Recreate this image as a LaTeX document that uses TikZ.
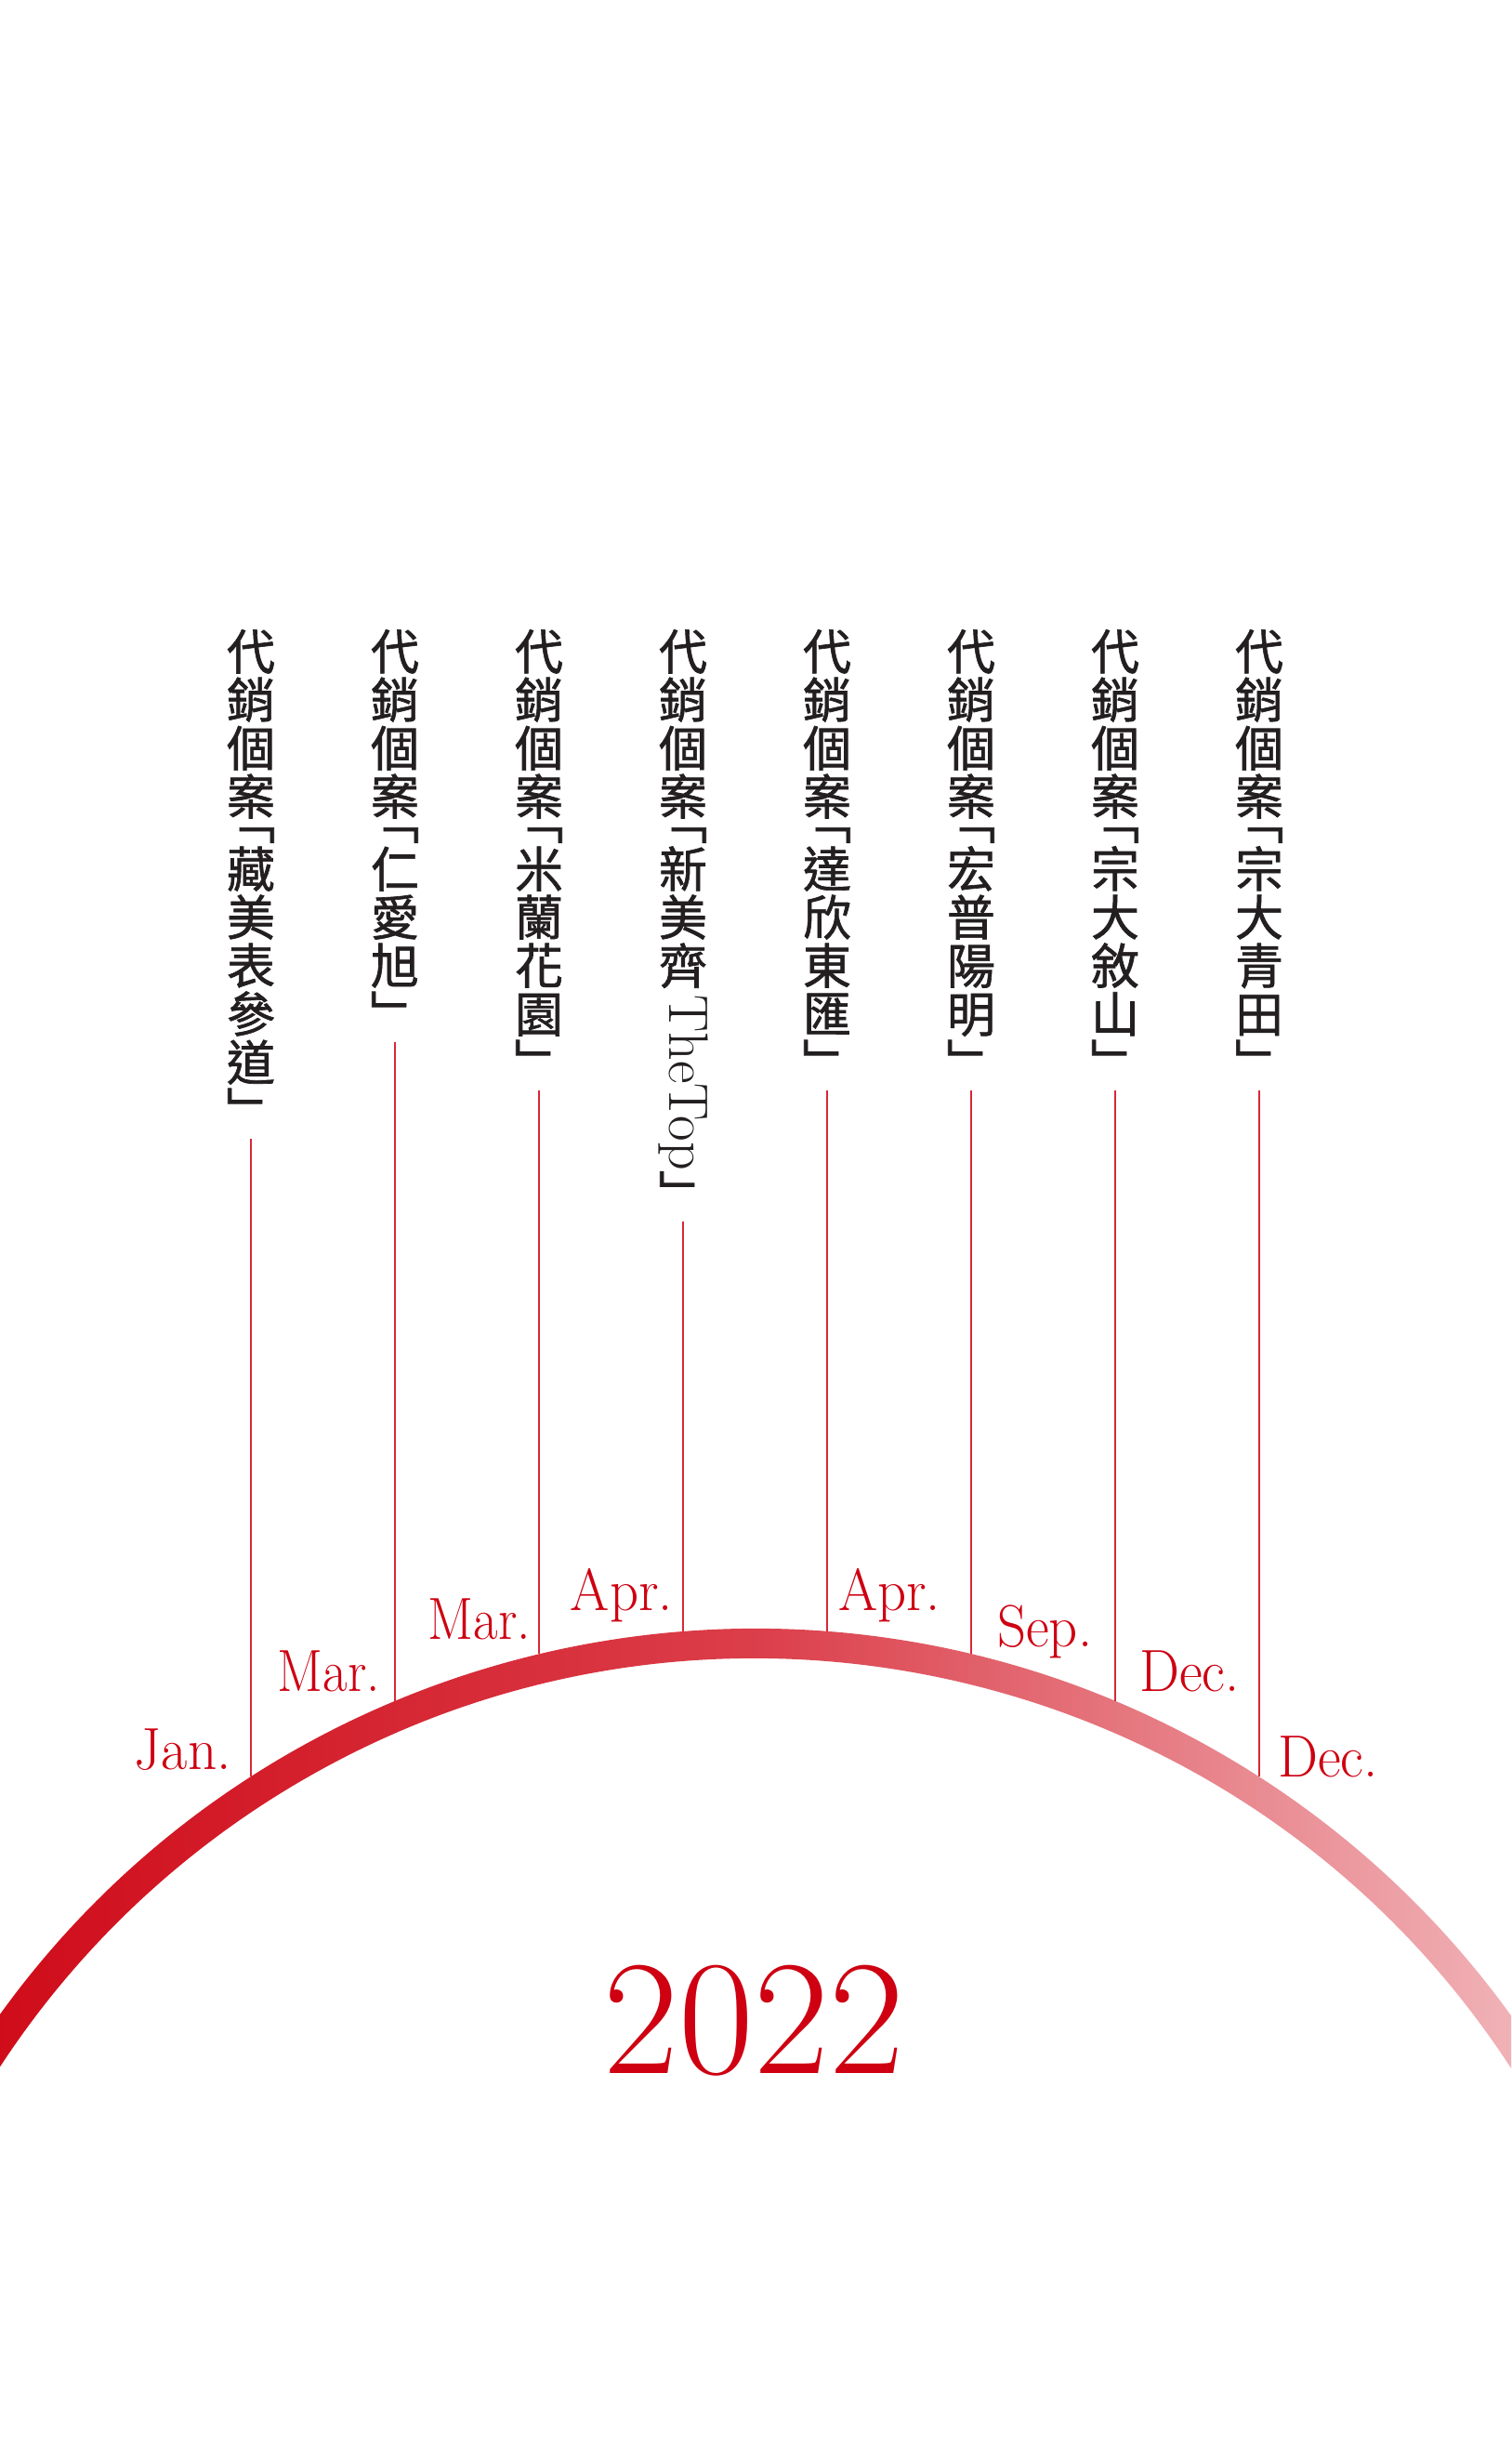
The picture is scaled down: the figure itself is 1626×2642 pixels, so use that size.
\documentclass[tikz,border=0pt]{standalone}
\usepackage{fontspec}
\usepackage{graphicx}
\newfontfamily\cjk{Noto Sans CJK TC}[FakeBold=1.2]
\definecolor{mred}{RGB}{206,0,17}
\definecolor{txt}{RGB}{35,31,32}
\definecolor{lred}{RGB}{214,40,56}
\definecolor{arcL}{RGB}{207,10,24}
\definecolor{arcM}{RGB}{219,62,74}
\definecolor{arcR}{RGB}{241,183,187}
\newcommand\colpre{代\\銷\\個\\案\\[-26pt]﹁}
\tikzset{
  col/.style={anchor=north, align=center, inner sep=0pt, text=txt, font=\cjk\fontsize{52}{52}\selectfont},
  mon/.style={inner sep=0pt, text=mred, font=\fontsize{64}{64}\selectfont},
  tick/.style={draw=lred, line width=1.5pt},
}
\begin{document}
\begin{tikzpicture}[x=1pt,y=-1pt]
\fill[white] (0,0) rectangle (1626,2642);
\useasboundingbox (0,0) rectangle (1626,2642);
% arc band
\coordinate (ctr) at (812.5,2755);
\begin{scope}
\clip (0,0) rectangle (1626,2642);
\shade[left color=arcL, right color=arcR, middle color=arcM]
  (ctr) ++(212:1003) arc[start angle=212, end angle=328, radius=1003]
  -- ++(148:32) arc[start angle=328, end angle=212, radius=971] -- cycle;
\end{scope}
% columns
\node[col] (c1) at (270,677) {\colpre\\藏\\美\\表\\參\\道\\﹂};
\node[col] (c2) at (425,677) {\colpre\\仁\\愛\\旭\\﹂};
\node[col] (c3) at (580,677) {\colpre\\米\\蘭\\花\\園\\﹂};
\node[col] (c4) at (735,677) {\colpre\\新\\美\\齊\\[-40pt]\rotatebox{-90}{\rmfamily\fontsize{60}{60}\selectfont TheTop}\\﹂};
\node[col] (c5) at (890,677) {\colpre\\達\\欣\\東\\匯\\﹂};
\node[col] (c6) at (1045,677) {\colpre\\宏\\普\\陽\\明\\﹂};
\node[col] (c7) at (1200,677) {\colpre\\宗\\大\\敘\\山\\﹂};
\node[col] (c8) at (1355,677) {\colpre\\宗\\大\\青\\田\\﹂};
% arc points
\coordinate (b1) at (270,1911.4);
\coordinate (b2) at (425,1829.9);
\coordinate (b3) at (580,1779.3);
\coordinate (b4) at (735,1755.0);
\coordinate (b5) at (890,1755.0);
\coordinate (b6) at (1045,1779.3);
\coordinate (b7) at (1200,1829.9);
\coordinate (b8) at (1355,1911.4);
\foreach \i in {1,...,8}{\draw[tick] (c\i.south) ++(0,10) -- (b\i);}
% months
\node[mon, anchor=base east] (m1) at (249,1903) {\scalebox{0.96}[1]{Jan.}};
\node[mon, anchor=base east] (m2) at (409,1819) {\scalebox{0.9}[1]{Mar.}};
\node[mon, anchor=base east] (m3) at (571,1763) {\scalebox{0.9}[1]{Mar.}};
\node[mon, anchor=base east] (m4) at (724,1732) {\scalebox{0.95}[1]{Apr.}};
\node[mon, anchor=base west] (m5) at (902,1732) {\scalebox{0.95}[1]{Apr.}};
\node[mon, anchor=base west] (m6) at (1073,1771) {\scalebox{0.95}[1]{Sep.}};
\node[mon, anchor=base west] (m7) at (1226,1819) {\scalebox{0.95}[1]{Dec.}};
\node[mon, anchor=base west] (m8) at (1375,1911) {\scalebox{0.95}[1]{Dec.}};
% year
\node[inner sep=0pt, text=mred, font=\fontsize{176}{176}\selectfont, anchor=base] (yr) at (811.5,2230) {2022};
\end{tikzpicture}
\end{document}
